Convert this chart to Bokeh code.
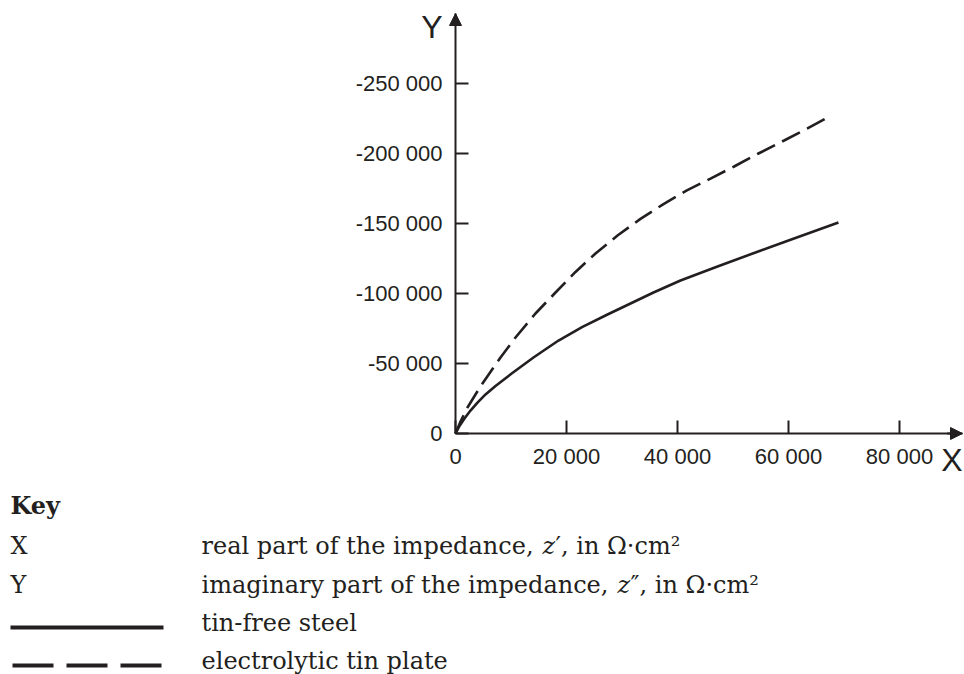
from bokeh.plotting import figure
from bokeh.models import Range1d, FixedTicker, Arrow, NormalHead, Label
from bokeh.embed import file_html
from bokeh.resources import INLINE

INK = "#231f20"

# Nyquist plot data: real part z' and imaginary part z'' (ohm·cm²)
steel_re = [0, 720, 1620, 2700, 3960, 5410, 7210, 10000, 14050, 18560, 22880, 27390,
            35680, 40540, 47210, 54050, 60000, 69000]
steel_im = [0, -5400, -10700, -16400, -22100, -27900, -33900, -42500, -54300, -66400, -76100, -85000,
            -100700, -109300, -119300, -129300, -137900, -150700]

tin_re = [0, 900, 2160, 4500, 8110, 10810, 14410, 18020, 21620, 25230, 29190, 33330,
          37480, 41690, 45950, 50200, 54590, 59210, 63420, 67400]
tin_im = [0, -8600, -18600, -33600, -54300, -68600, -85700, -100700, -115400, -128600, -141400, -153300,
          -163900, -173600, -182100, -190700, -200000, -209300, -217900, -226400]

x_ticks = [0, 20000, 40000, 60000, 80000]
y_ticks = [0, -50000, -100000, -150000, -200000, -250000]

series_names = ["tin-free steel", "electrolytic tin plate"]

W, H = 964, 674
PX_X = 20000 / 111          # data units per pixel, real axis
PX_Y = 50000 / 70           # data units per pixel, imaginary axis
ORIGIN = (455, 433)         # pixel position of the origin from top-left

X_END = (962 - ORIGIN[0]) * PX_X
Y_END = -300000


def fmt(v):
    return f"{v:,}".replace(",", " ")


p = figure(
    width=W, height=H,
    x_range=Range1d(-ORIGIN[0] * PX_X, (W - ORIGIN[0]) * PX_X),
    y_range=Range1d((H - ORIGIN[1]) * PX_Y, -ORIGIN[1] * PX_Y),
    output_backend="svg", toolbar_location=None, min_border=0,
)
p.outline_line_color = None
p.xgrid.visible = False
p.ygrid.visible = False

p.line(steel_re, steel_im, line_width=2.6, line_color=INK)
p.line(tin_re, tin_im, line_width=2.6, line_color=INK, line_dash="20 8")

# axes crossing at the origin
p.xaxis.fixed_location = 0
p.yaxis.fixed_location = 0
p.xaxis.bounds = (0, X_END)
p.yaxis.bounds = (Y_END, 0)
p.xaxis.ticker = FixedTicker(ticks=x_ticks)
p.xaxis.major_label_overrides = {t: fmt(t) for t in x_ticks}
p.yaxis.ticker = FixedTicker(ticks=y_ticks)
p.yaxis.major_label_overrides = {t: fmt(t) for t in y_ticks}
for ax in (p.xaxis[0], p.yaxis[0]):
    ax.axis_line_width = 2
    ax.axis_line_color = INK
    ax.major_tick_in = 13
    ax.major_tick_out = 0
    ax.major_tick_line_width = 2
    ax.major_tick_line_color = INK
    ax.minor_tick_line_color = None
    ax.major_label_text_font = "Liberation Sans"
    ax.major_label_text_font_size = "22px"
    ax.major_label_text_color = INK
p.yaxis.major_label_standoff = 13
p.xaxis.major_label_standoff = 10

# arrow heads at the ends of both axes
head = dict(size=12, fill_color=INK, line_color=INK, line_width=1)
p.add_layout(Arrow(end=NormalHead(**head), x_start=0, y_start=Y_END * 0.97, x_end=0, y_end=Y_END,
                   line_color=INK, line_width=2))
p.add_layout(Arrow(end=NormalHead(**head), x_start=X_END * 0.97, y_start=0, x_end=X_END, y_end=0,
                   line_color=INK, line_width=2))

p.add_layout(Label(x=0, y=Y_END, x_offset=-13, y_offset=5, text="Y", text_align="right",
                   text_baseline="top", text_font="Liberation Sans", text_font_size="32px",
                   text_color=INK))
p.add_layout(Label(x=X_END, y=0, y_offset=-8, text="X", text_align="right", text_baseline="top",
                   text_font="Liberation Sans", text_font_size="32px", text_color=INK))

# key under the chart, positioned in screen pixels
KEY_FONT = "DejaVu Serif"
KEY_SIZE = "24px"
ROW = [505, 545, 584, 622, 660]     # text rows, pixels from the top


def key_text(x, y_top, text, style="normal"):
    p.add_layout(Label(x=x, y=H - y_top, x_units="screen", y_units="screen", text=text,
                       text_baseline="alphabetic", text_font=KEY_FONT, text_font_size=KEY_SIZE,
                       text_font_style=style, text_color=INK))


key_text(10, ROW[0], "Key", "bold")
key_text(10, ROW[1], "X")
key_text(10, ROW[2], "Y")

desc_x = 201
# description rows: plain text, italic symbol, plain remainder
key_text(desc_x, ROW[1], "real part of the impedance,")
key_text(desc_x + 341, ROW[1], "z", "italic")
key_text(desc_x + 354, ROW[1], "\u2032, in \u03a9\u00b7cm\u00b2")
key_text(desc_x, ROW[2], "imaginary part of the impedance,")
key_text(desc_x + 416, ROW[2], "z", "italic")
key_text(desc_x + 429, ROW[2], "\u2033, in \u03a9\u00b7cm\u00b2")
key_text(desc_x, ROW[3], series_names[0])
key_text(desc_x, ROW[4], series_names[1])

p.add_layout(Arrow(end=None, x_start=10, y_start=H - 627, x_end=163, y_end=H - 627,
                   start_units="screen", end_units="screen", line_width=4, line_color=INK))
p.add_layout(Arrow(end=None, x_start=12, y_start=H - 665, x_end=163, y_end=H - 665,
                   start_units="screen", end_units="screen", line_width=4, line_color=INK,
                   line_dash="41 13"))

open("out.html", "w").write(file_html(p, INLINE))
